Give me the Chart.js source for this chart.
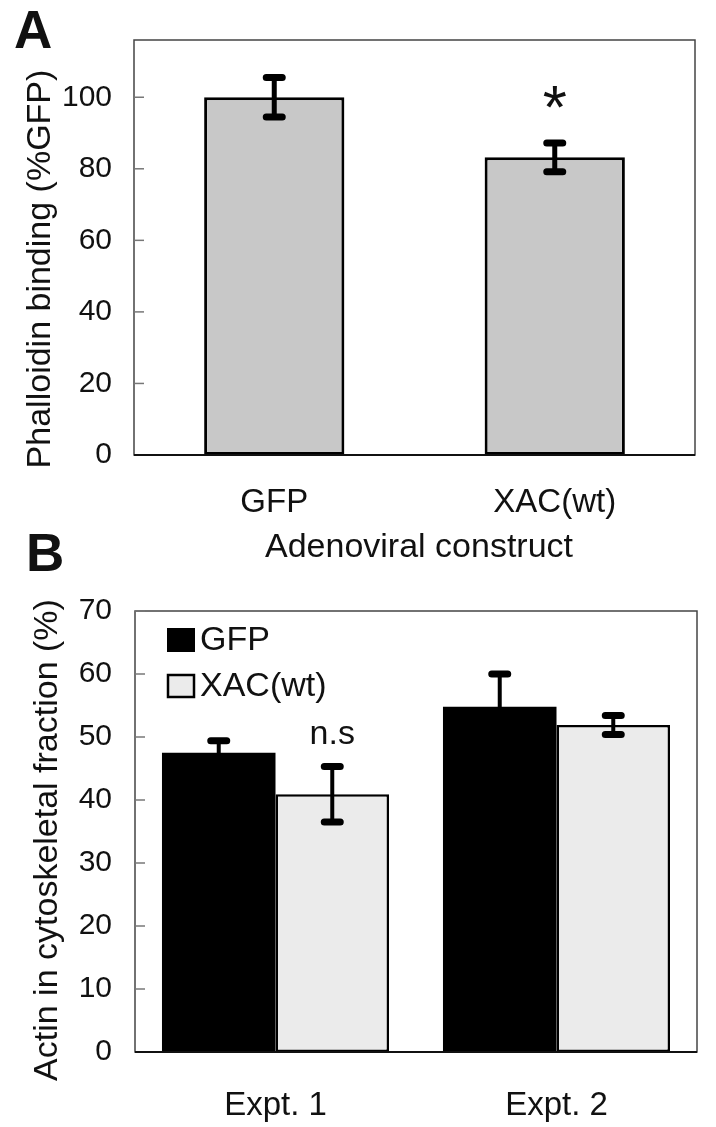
<!DOCTYPE html>
<html>
<head>
<meta charset="utf-8">
<script src="https://cdn.jsdelivr.net/npm/chart.js@4.4.1/dist/chart.umd.min.js"></script>
<style>
body { margin: 0; background: #fff; }
#page { position: relative; width: 716px; height: 1127px; overflow: hidden; font-family: 'Liberation Sans', Arial, sans-serif; color: #111; }
canvas { position: absolute; left: 0; }
.lbl { position: absolute; white-space: nowrap; line-height: 1; }
.panel { font-weight: bold; font-size: 53px; }
.ytitle { font-size: 34px; transform: translate(-50%, -50%) rotate(-90deg); }
.xtitle { font-size: 34px; transform: translate(-50%, -50%); }
</style>
</head>
<body>
<div id="page">
  <canvas id="chartA" width="716" height="560" style="top:0"></canvas>
  <canvas id="chartB" width="716" height="567" style="top:560px"></canvas>
  <div class="lbl panel" style="left:14px; top:3px">A</div>
  <div class="lbl panel" style="left:26px; top:526px">B</div>
  <div class="lbl ytitle" style="left:38px; top:269px">Phalloidin binding (%GFP)</div>
  <div class="lbl xtitle" style="left:419px; top:545px">Adenoviral construct</div>
  <div class="lbl ytitle" style="left:45px; top:840px">Actin in cytoskeletal fraction (%)</div>
</div>
<script>
'use strict';

// Panel A - phalloidin binding
var aCategories = ['GFP', 'XAC(wt)'];
var aValues = [100, 83.2];
var aErrors = [5.5, 4.0];
var aTicks = [0, 20, 40, 60, 80, 100];
var aMarks = ['', '*'];

// Panel B - actin in cytoskeletal fraction
var bCategories = ['Expt. 1', 'Expt. 2'];
var bSeries = ['GFP', 'XAC(wt)'];
var bGfp = [47.5, 54.8];
var bGfpErr = [1.9, 5.2];
var bXac = [40.9, 51.9];
var bXacErr = [4.4, 1.5];
var bTicks = [0, 10, 20, 30, 40, 50, 60, 70];
var bMarks = ['n.s', ''];

var FONT = "'Liberation Sans', Arial, sans-serif";
Chart.defaults.font.family = FONT;
Chart.defaults.color = '#111';

// box round the plot area, with short ticks pointing inward
var frame = {
	id: 'frame',
	afterDatasetsDraw: function(chart, args, opts) {
		var ctx = chart.ctx, a = chart.chartArea, y = chart.scales.y;
		ctx.save();
		ctx.strokeStyle = '#444';
		ctx.lineWidth = 1.5;
		ctx.strokeRect(a.left, a.top, a.right - a.left, a.bottom - a.top);
		ctx.strokeStyle = '#111';
		ctx.lineWidth = 2;
		ctx.beginPath();
		ctx.moveTo(a.left, a.bottom);
		ctx.lineTo(a.right, a.bottom);
		ctx.stroke();
		ctx.strokeStyle = '#777';
		ctx.lineWidth = 1.5;
		opts.ticks.forEach(function(v) {
			var py = y.getPixelForValue(v);
			if (v === opts.ticks[0]) return;
			ctx.beginPath();
			ctx.moveTo(a.left, py);
			ctx.lineTo(a.left + 10, py);
			ctx.stroke();
		});
		ctx.restore();
	}
};

var errorBars = {
	id: 'errorBars',
	afterDatasetsDraw: function(chart, args, opts) {
		var ctx = chart.ctx, y = chart.scales.y;
		chart.data.datasets.forEach(function(ds, di) {
			var meta = chart.getDatasetMeta(di);
			meta.data.forEach(function(bar, i) {
				var v = ds.data[i], e = opts.errors[di][i];
				var top = y.getPixelForValue(v + e), bot = y.getPixelForValue(v - e);
				ctx.save();
				ctx.strokeStyle = '#000';
				ctx.lineWidth = opts.stem;
				ctx.beginPath();
				ctx.moveTo(bar.x, top);
				ctx.lineTo(bar.x, bot);
				ctx.stroke();
				ctx.lineWidth = opts.cap;
				ctx.lineCap = 'round';
				ctx.beginPath();
				ctx.moveTo(bar.x - opts.half, top);
				ctx.lineTo(bar.x + opts.half, top);
				ctx.moveTo(bar.x - opts.half, bot);
				ctx.lineTo(bar.x + opts.half, bot);
				ctx.stroke();
				ctx.restore();
			});
		});
	}
};

// significance marks above the error bars
var marks = {
	id: 'marks',
	afterDraw: function(chart, args, opts) {
		var ctx = chart.ctx, y = chart.scales.y;
		var di = opts.dataset;
		var ds = chart.data.datasets[di];
		var meta = chart.getDatasetMeta(di);
		ctx.save();
		ctx.font = opts.font;
		ctx.fillStyle = '#111';
		ctx.textAlign = 'center';
		ctx.textBaseline = 'alphabetic';
		opts.labels.forEach(function(txt, i) {
			if (!txt) return;
			var m = ctx.measureText(txt);
			var cy = y.getPixelForValue(ds.data[i] + opts.errors[i]) - opts.lift;
			var base = cy + (m.actualBoundingBoxAscent - m.actualBoundingBoxDescent) / 2;
			ctx.fillText(txt, meta.data[i].x, base);
		});
		ctx.restore();
	}
};

// legend drawn inside the plot area, top left
var boxLegend = {
	id: 'boxLegend',
	afterDraw: function(chart, args, opts) {
		var ctx = chart.ctx, a = chart.chartArea;
		ctx.save();
		ctx.font = opts.font;
		ctx.textBaseline = 'middle';
		chart.data.datasets.forEach(function(ds, i) {
			var x = a.left + opts.x, cy = a.top + opts.y + i * opts.gap;
			ctx.fillStyle = ds.backgroundColor;
			ctx.fillRect(x, cy - 12, 28, 24);
			if (ds.borderWidth) {
				ctx.strokeStyle = '#000';
				ctx.lineWidth = 2.5;
				ctx.strokeRect(x + 1, cy - 11, 26, 22);
			}
			ctx.fillStyle = '#111';
			ctx.fillText(ds.label, x + 33, cy + 1);
		});
		ctx.restore();
	}
};

var noGrid = { display: false, drawTicks: false };

new Chart(document.getElementById('chartA'), {
	type: 'bar',
	data: {
		labels: aCategories,
		datasets: [{
			label: 'Phalloidin binding',
			data: aValues,
			backgroundColor: '#c8c8c8',
			borderColor: '#000',
			borderWidth: 3,
			borderSkipped: false,
			barPercentage: 0.5,
			categoryPercentage: 1
		}]
	},
	options: {
		responsive: false,
		animation: false,
		layout: { padding: { left: 0, top: 28, right: 21, bottom: 0 } },
		plugins: {
			legend: { display: false },
			tooltip: { enabled: false },
			frame: { ticks: aTicks },
			errorBars: { errors: [aErrors], stem: 5, cap: 7, half: 8 },
			marks: { dataset: 0, labels: aMarks, errors: aErrors, lift: 46, font: '62px ' + FONT }
		},
		scales: {
			x: {
				grid: noGrid,
				border: { display: false },
				ticks: { font: { size: 33 }, padding: 28 },
				afterFit: function(s) { s.height = 105; }
			},
			y: {
				min: 0,
				max: 116,
				grid: noGrid,
				border: { display: false },
				ticks: { font: { size: 30 }, padding: 22 },
				afterFit: function(s) { s.width = 134; },
				afterBuildTicks: function(s) {
					s.ticks = aTicks.map(function(v) { return { value: v }; });
				}
			}
		}
	},
	plugins: [frame, errorBars, marks]
});

new Chart(document.getElementById('chartB'), {
	type: 'bar',
	data: {
		labels: bCategories,
		datasets: [{
			label: bSeries[0],
			data: bGfp,
			backgroundColor: '#000',
			borderWidth: 0,
			barPercentage: 1,
			categoryPercentage: 0.808
		}, {
			label: bSeries[1],
			data: bXac,
			backgroundColor: '#ebebeb',
			borderColor: '#000',
			borderWidth: 2.5,
			borderSkipped: false,
			barPercentage: 1,
			categoryPercentage: 0.808
		}]
	},
	options: {
		responsive: false,
		animation: false,
		layout: { padding: { left: 0, top: 51, right: 19, bottom: 0 } },
		plugins: {
			legend: { display: false },
			tooltip: { enabled: false },
			frame: { ticks: bTicks },
			errorBars: { errors: [bGfpErr, bXacErr], stem: 4, cap: 7, half: 8 },
			marks: { dataset: 1, labels: bMarks, errors: bXacErr, lift: 32, font: '34px ' + FONT },
			boxLegend: { x: 32, y: 29, gap: 46, font: '34px ' + FONT }
		},
		scales: {
			x: {
				grid: noGrid,
				border: { display: false },
				ticks: { font: { size: 33 }, padding: 34 },
				afterFit: function(s) { s.height = 75; }
			},
			y: {
				min: 0,
				max: 70,
				grid: noGrid,
				border: { display: false },
				ticks: { font: { size: 30 }, padding: 23 },
				afterFit: function(s) { s.width = 135; },
				afterBuildTicks: function(s) {
					s.ticks = bTicks.map(function(v) { return { value: v }; });
				}
			}
		}
	},
	plugins: [frame, errorBars, marks, boxLegend]
});
</script>
</body>
</html>
